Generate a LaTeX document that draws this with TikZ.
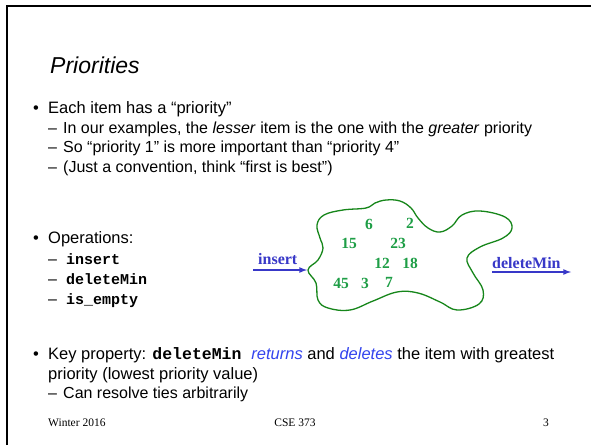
\documentclass[tikz,border=0pt]{standalone}
\usepackage{fontspec}
\setmainfont{Liberation Sans}
\setmonofont{Liberation Mono}
\newfontfamily\numfont{Liberation Serif}
\usepackage{xcolor}
\usetikzlibrary{positioning}

\definecolor{opblue}{RGB}{56,56,200}
\definecolor{hiblue}{RGB}{51,68,238}
\definecolor{itemgreen}{RGB}{30,158,70}
\definecolor{blobgreen}{RGB}{22,134,26}

\begin{document}
\begin{tikzpicture}[x=1pt,y=-1pt]
      \tikzset{title/.style={anchor=base west,inner sep=0pt,font=\fontsize{23}{27}\selectfont\itshape}}
      \tikzset{lvlone/.style={anchor=base west,inner sep=0pt,font=\fontsize{16.5}{19}\selectfont}}
      \tikzset{lvltwo/.style={anchor=base west,inner sep=0pt,font=\fontsize{16}{19}\selectfont}}
      \tikzset{code/.style={anchor=base west,inner sep=0pt,font=\fontsize{15}{18}\selectfont\ttfamily\bfseries}}
      \tikzset{item/.style={inner sep=0pt,text=itemgreen,font=\numfont\bfseries\fontsize{15.5}{17}\selectfont}}
      \tikzset{op/.style={anchor=base west,inner sep=0pt,text=opblue,font=\numfont\bfseries\fontsize{16}{19}\selectfont}}
      \tikzset{foot/.style={anchor=base,inner sep=0pt,font=\numfont\fontsize{11.5}{14}\selectfont}}
      \tikzset{oparrow/.style={draw=opblue,line width=1.6pt,-latex}}
      \def\bx{33}
      \def\tx{48}
      \def\dx{48}
      \def\sx{63}

      \useasboundingbox[fill=white] (0,0) rectangle (591,445);
      \draw[line width=2pt] (7,445) -- (7,6) -- (591,6);

      \node[title] (title) at (50,73) {Priorities};

      % first bullet
      \node[lvlone] (b1) at (\bx,113) {\textbullet};
      \node[lvlone] (t1) at (\tx,113) {Each item has a “priority”};
      \node[lvltwo] (d11) at (\dx,133) {–};
      \node[lvltwo] (t11) at (\sx,133) {In our examples, the \textit{lesser} item is the one with the \textit{greater} priority};
      \node[lvltwo] (d12) at (\dx,152) {–};
      \node[lvltwo] (t12) at (\sx,152) {So “priority 1” is more important than “priority 4”};
      \node[lvltwo] (d13) at (\dx,172) {–};
      \node[lvltwo] (t13) at (\sx,172) {(Just a convention, think “first is best”)};

      % operations
      \node[lvlone] (b2) at (\bx,243) {\textbullet};
      \node[lvlone] (t2) at (\tx,243) {Operations:};
      \node[lvltwo] (d21) at (\dx,264) {–};
      \node[code] (t21) at (\sx+3,264) {insert};
      \node[lvltwo] (d22) at (\dx,284) {–};
      \node[code] (t22) at (\sx+3,284) {deleteMin};
      \node[lvltwo] (d23) at (\dx,304) {–};
      \node[code] (t23) at (\sx+3,304) {is\_empty};

      % the bag of items
      \draw[blobgreen,line width=1.3pt] plot[smooth cycle,tension=0.65] coordinates {
        (308,270) (316,283) (318,300) (328,308) (350,310) (373,301) (397,292)
        (418,293) (440,302) (457,310) (479,304) (483,290) (473,273) (467,258)
        (480,247) (503,238) (512,228) (505,217) (480,211) (462,215) (452,226)
        (440,232) (428,228) (418,218) (411,208) (400,201) (386,200) (375,203)
        (366,208) (343,210) (324,215) (317,225) (320,238) (323,248) (318,260)};
      \node[item] (n6)  at (369,224) {6};
      \node[item] (n2)  at (410,223) {2};
      \node[item] (n15) at (349,243) {15};
      \node[item] (n23) at (398,243) {23};
      \node[item] (n12) at (382,263) {12};
      \node[item] (n18) at (410,263) {18};
      \node[item] (n45) at (341,283) {45};
      \node[item] (n3)  at (365,283) {3};
      \node[item] (n7)  at (389,282) {7};

      \node[op] (ins) at (258,264) {insert};
      \node[op] (del) at (492,268) {deleteMin};
      \coordinate (insfrom) at (253,270);
      \coordinate (insto) at (307,270);
      \coordinate (delfrom) at (492,272);
      \coordinate (delto) at (571,272);
      \draw[oparrow] (insfrom) -- (insto);
      \draw[oparrow] (delfrom) -- (delto);

      % key property
      \node[lvlone] (b3) at (\bx,359) {\textbullet};
      \node[lvlone] (t3) at (\tx,359) {Key property: {\ttfamily\bfseries deleteMin\ }\textcolor{hiblue}{\itshape returns} and \textcolor{hiblue}{\itshape deletes} the item with greatest};
      \node[lvlone] (t3b) at (\tx,379) {priority (lowest priority value)};
      \node[lvltwo] (d31) at (\dx,398) {–};
      \node[lvltwo] (t31) at (\sx,398) {Can resolve ties arbitrarily};

      % footer
      \node[foot,anchor=base west] (fl) at (48,426) {Winter 2016};
      \node[foot] (fc) at (295,426) {CSE 373};
      \node[foot,anchor=base east] (fr) at (549,426) {3};
\end{tikzpicture}
\end{document}
